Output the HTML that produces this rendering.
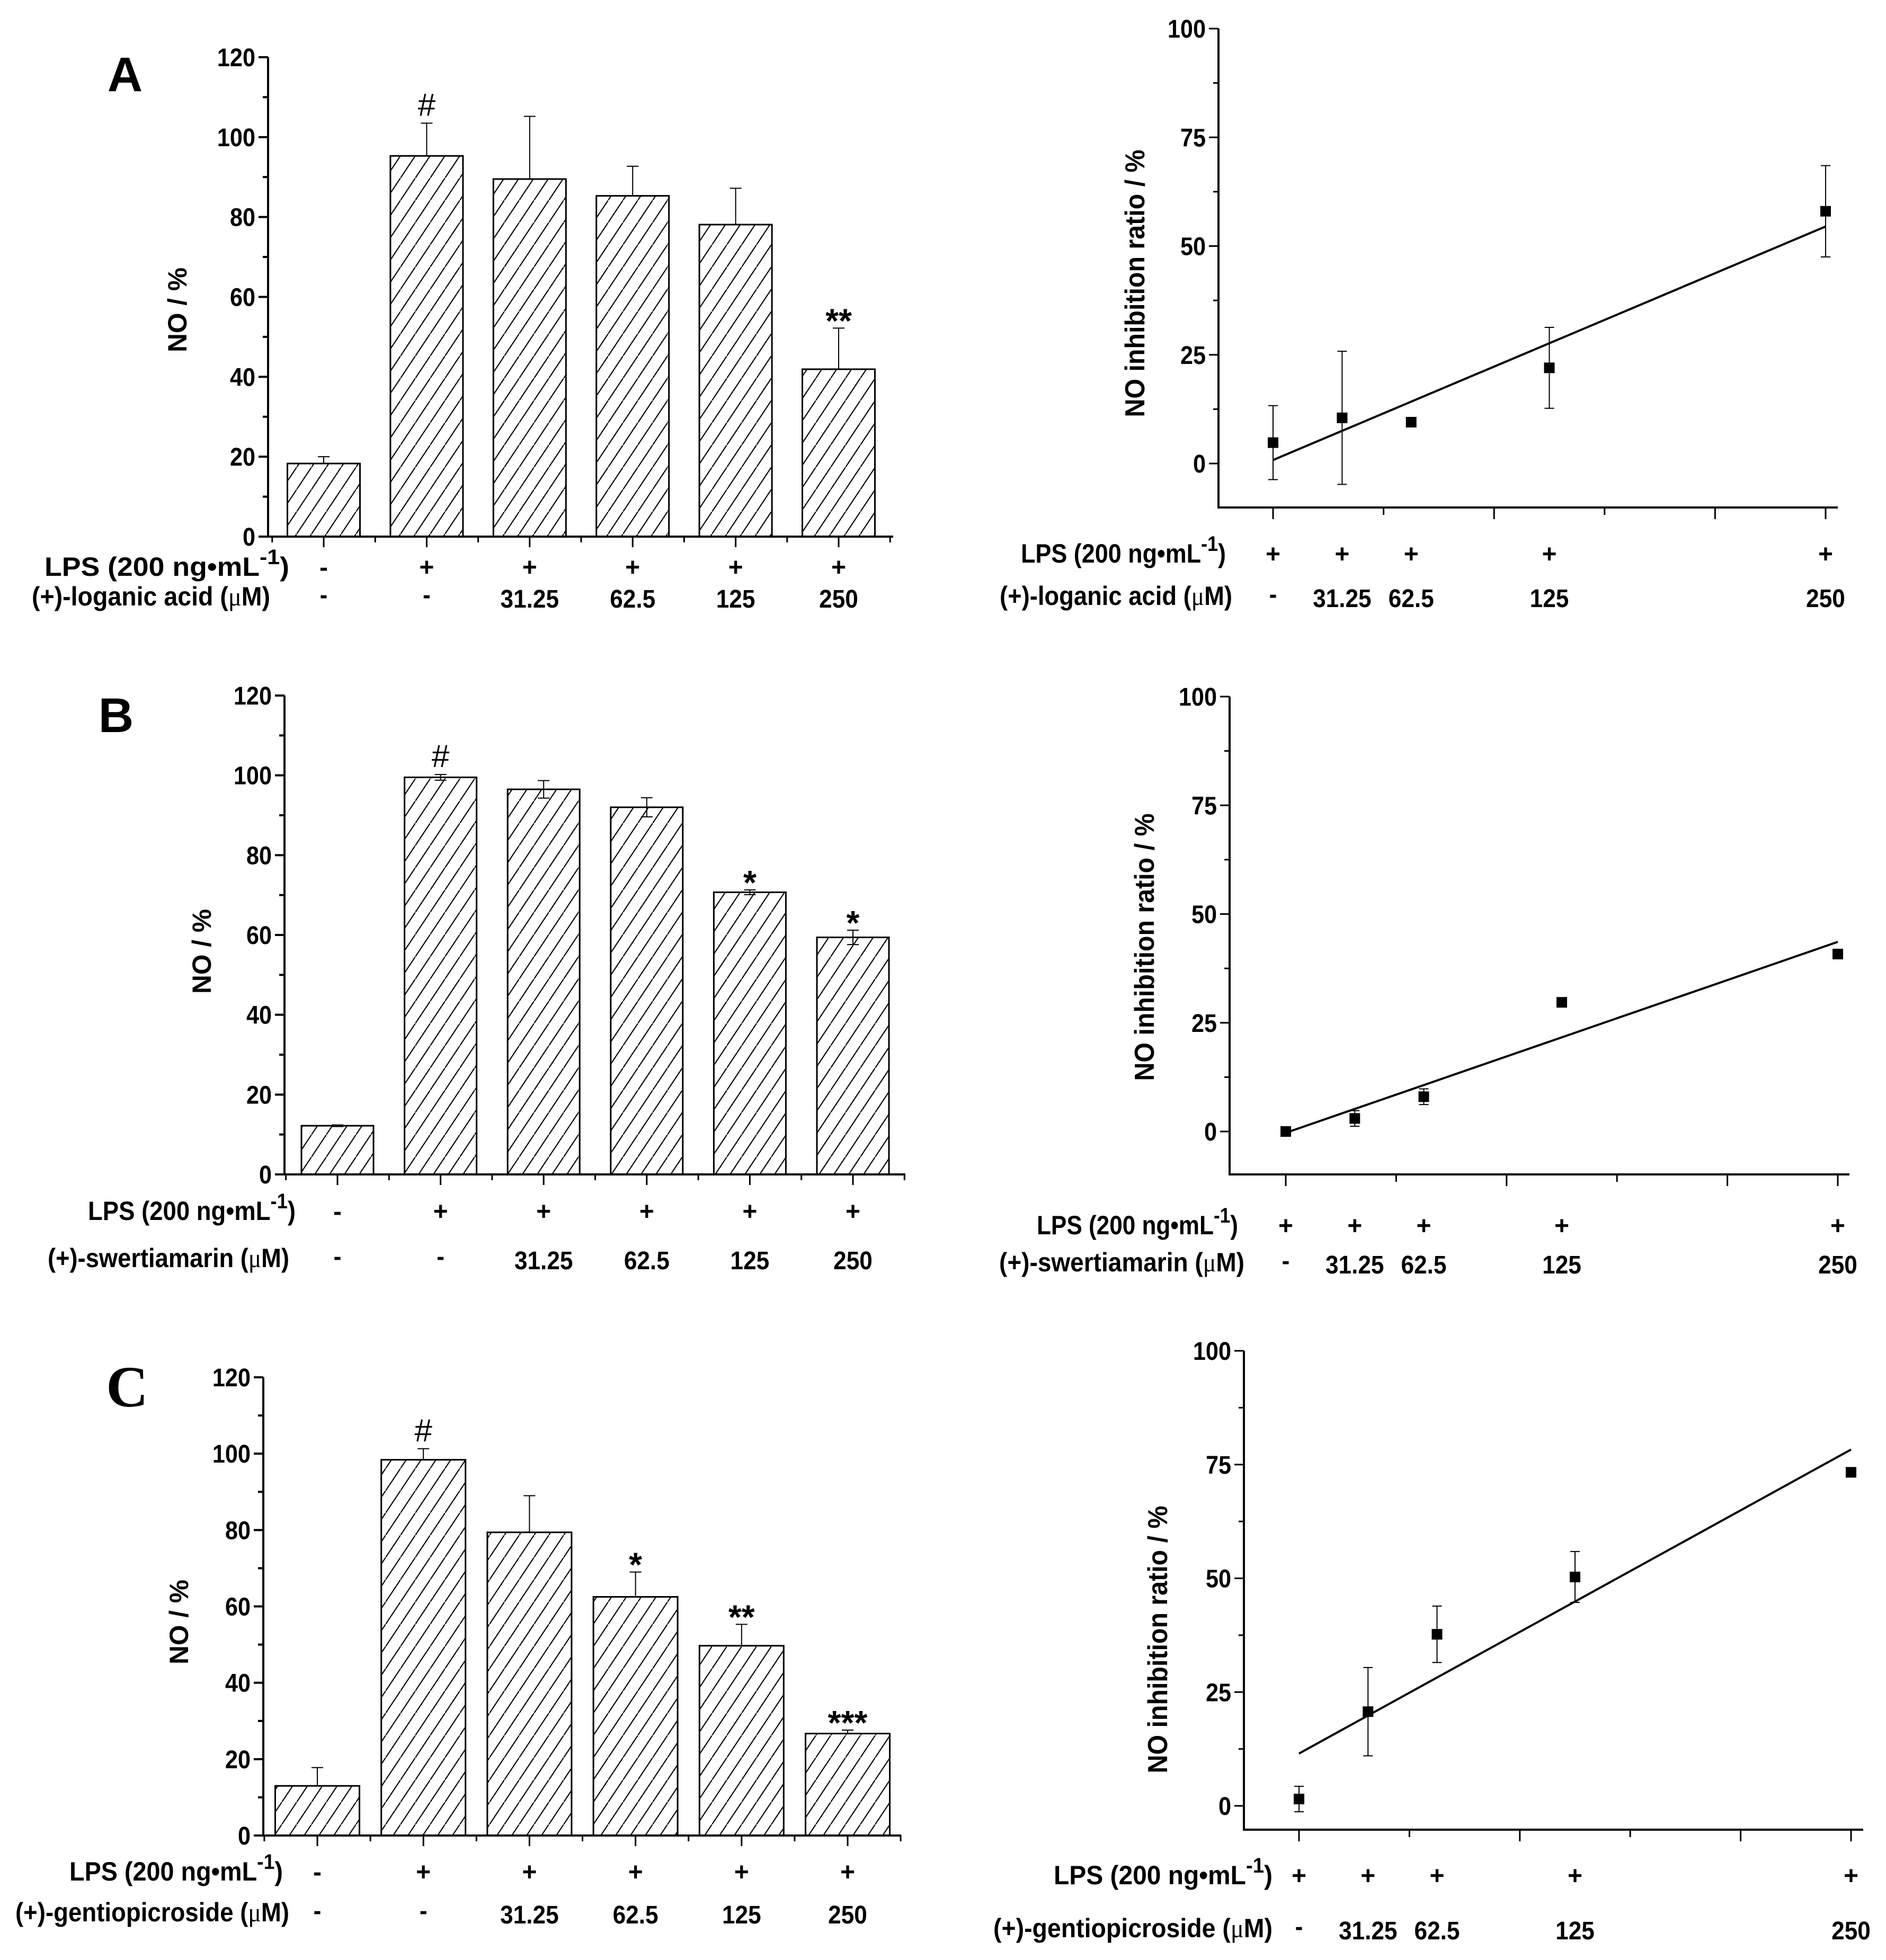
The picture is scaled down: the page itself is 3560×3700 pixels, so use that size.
<!DOCTYPE html>
<html><head><meta charset="utf-8"><style>
html,body{margin:0;padding:0;background:#fff}
svg{display:block}
text{font-family:"Liberation Sans",Arial,sans-serif;font-weight:bold;fill:#000}
</style></head><body>
<svg id="fig" xmlns="http://www.w3.org/2000/svg" width="3560" height="3700" viewBox="0 0 3560 3700">
<defs>
<pattern id="hatch" patternUnits="userSpaceOnUse" width="28" height="42">
<line x1="-28" y1="84" x2="56" y2="-42" stroke="#000" stroke-width="2"/>
<line x1="0" y1="42" x2="28" y2="0" stroke="#000" stroke-width="2"/>
</pattern>
</defs>
<rect width="3560" height="3700" fill="#fff"/>
</svg>
<script>
// ---- Data ----
const barLps = ['-','+','+','+','+','+'];
const barConc = ['-','-','31.25','62.5','125','250'];
const barA = [18.3, 95.3, 89.5, 85.3, 78.1, 41.9];
const barAErr = [1.7, 8.2, 15.7, 7.4, 9.1, 10.3];
const sigA = ['', '#', '', '', '', '**'];
const barB = [12.2, 99.5, 96.5, 92.0, 70.7, 59.4];
const barBErr = [0.2, 0.7, 2.2, 2.4, 0.6, 1.8];
const sigB = ['', '#', '', '', '*', '*'];
const barC = [13.0, 98.4, 79.4, 62.5, 49.7, 26.7];
const barCErr = [4.8, 2.9, 9.6, 6.5, 5.6, 0.9];
const sigC = ['', '#', '', '*', '**', '***'];
const barTicks = [0, 20, 40, 60, 80, 100, 120];

const concs = [0, 31.25, 62.5, 125, 250];
const concLabels = ['-', '31.25', '62.5', '125', '250'];
const inhA = [4.8, 10.5, 9.5, 22.0, 58.0];
const inhAErr = [8.5, 15.3, 0, 9.3, 10.5];
const fitA = [0.8, 54.5];
const inhB = [0, 3.0, 8.0, 29.7, 40.8];
const inhBErr = [0.3, 1.8, 1.8, 0.5, 1.0];
const fitB = [-0.3, 43.6];
const inhC = [1.5, 20.7, 37.7, 50.3, 73.3];
const inhCErr = [2.8, 9.7, 6.2, 5.6, 0];
const fitC = [11.5, 78.3];
const inhTicks = [0, 25, 50, 75, 100];

const NS = 'http://www.w3.org/2000/svg';
const svg = document.getElementById('fig');
function el(tag, attrs, parent) {
  const e = document.createElementNS(NS, tag);
  for (const k in attrs) e.setAttribute(k, attrs[k]);
  (parent || svg).appendChild(e);
  return e;
}
function txt(x, y, s, size, anchor, parent, cond) {
  const t = el('text', {x: x, y: y, 'font-size': size, 'text-anchor': anchor || 'middle'}, parent);
  t.textContent = s;
  if (cond) { const L = t.getComputedTextLength(); t.setAttribute('textLength', L * cond); t.setAttribute('lengthAdjust', 'spacingAndGlyphs'); }
  return t;
}
function lpsLabel(xr, y, w, parent) {
  const t = el('text', {x: xr, y: y, 'font-size': 50, 'text-anchor': 'end'}, parent);
  
  
  const a = el('tspan', {}, t); a.textContent = 'LPS (200 ng\u2022mL';
  const b = el('tspan', {dy: -22, 'font-size': 40}, t); b.textContent = '-1';
  const c = el('tspan', {dy: 22}, t); c.textContent = ')';
  t.setAttribute('textLength', w); t.setAttribute('lengthAdjust', 'spacingAndGlyphs');
}
function concLabel(xr, y, w, name, parent) {
  const t = el('text', {x: xr, y: y, 'font-size': 50, 'text-anchor': 'end'}, parent);
  
  
  const a = el('tspan', {}, t); a.textContent = name + ' (';
  const b = el('tspan', {style: 'font-family:"Liberation Serif",serif;font-weight:normal'}, t); b.textContent = '\u03bc';
  const c = el('tspan', {}, t); c.textContent = 'M)';
  t.setAttribute('textLength', w); t.setAttribute('lengthAdjust', 'spacingAndGlyphs');
}

function barChart(o) {
  const g = el('g', {});
  
  
  const n = o.vals.length;
  const cx = i => o.c0 + i * o.step;
  const ys = v => o.y0 - (v / 120) * (o.y0 - o.y120);
  for (let i = 0; i < n; i++) {
    const r = el('rect', {x: cx(i) - o.bw / 2, y: ys(o.vals[i]), width: o.bw, height: o.y0 - ys(o.vals[i]), fill: 'url(#hatch)', stroke: '#000', 'stroke-width': 3}, g);
    
    
    const top = ys(o.vals[i] + o.err[i]);
    const bot = o.both ? ys(o.vals[i] - o.err[i]) : ys(o.vals[i]);
    const eb = el('path', {d: `M${cx(i)} ${bot}V${top}M${cx(i)-11} ${top}H${cx(i)+11}` + (o.both ? `M${cx(i)-11} ${bot}H${cx(i)+11}` : ''), stroke: '#000', 'stroke-width': 2, fill: 'none'}, g);
    
    
    if (o.sig[i]) {
      const s = txt(cx(i), top - 14 + (o.sig[i] === '#' ? 0 : 22), o.sig[i], o.sig[i] === '#' ? 60 : 64, 'middle', g);
      if (o.sig[i] === '#') s.setAttribute('style', 'font-weight:normal');
      
      
    }
  }
  const ax = el('path', {d: `M${o.ax} ${o.y120}V${o.y0}H${o.xend}`, stroke: '#000', 'stroke-width': 4, fill: 'none'}, g);
  
  
  for (let v = 0; v <= 120; v += 10) {
    const maj = v % 20 === 0;
    el('line', {x1: o.ax - (maj ? 18 : 10), x2: o.ax, y1: ys(v), y2: ys(v), stroke: '#000', 'stroke-width': 4}, g);
  }
  barTicks.forEach(v => {
    const t = txt(o.ax - 24, ys(v) + 17, String(v), 48, 'end', g, 0.9);
    
    
  });
  for (let i = 0; i < n; i++) {
    el('line', {x1: cx(i), x2: cx(i), y1: o.y0, y2: o.y0 + 20, stroke: '#000', 'stroke-width': 3}, g);
    el('line', {x1: cx(i) - o.step / 2, x2: cx(i) - o.step / 2, y1: o.y0, y2: o.y0 + 11, stroke: '#000', 'stroke-width': 3}, g);
  }
  el('line', {x1: cx(n - 1) + o.step / 2, x2: cx(n - 1) + o.step / 2, y1: o.y0, y2: o.y0 + 11, stroke: '#000', 'stroke-width': 3}, g);
  const yt = el('text', {x: 0, y: 0, 'font-size': 50, 'text-anchor': 'middle', transform: `translate(${o.ylx},${o.yly}) rotate(-90)`, textLength: 160, lengthAdjust: 'spacingAndGlyphs'}, g);
  yt.textContent = 'NO / %';
  
  
  lpsLabel(o.lpsR, o.row1, o.lpsW, g);
  concLabel(o.concR, o.row2, o.concW, o.compound, g);
  for (let i = 0; i < n; i++) {
    const a = txt(cx(i), o.row1, barLps[i], 48, 'middle', g);
    
    
    const b = txt(cx(i), o.row2 + (barConc[i] === '-' ? -4 : 4), barConc[i], 48, 'middle', g, 0.92);
    
    
  }
  const p = txt(o.px, o.py, o.letter, o.serif ? 110 : 92, 'middle', g);
  if (o.serif) { p.setAttribute('style', 'font-family:"Liberation Serif",serif'); }
  
  
}

function scatterChart(o) {
  const g = el('g', {});
  
  
  const xs = c => o.x0 + (c / 250) * (o.x250 - o.x0);
  const ys = v => o.yz - (v / 100) * (o.yz - o.y100);
  const ax = el('path', {d: `M${o.ax} ${o.y100}V${o.ybot}H${o.xend}`, stroke: '#000', 'stroke-width': 4, fill: 'none'}, g);
  
  
  for (let v = 0; v <= 100; v += 12.5) {
    const maj = v % 25 === 0;
    el('line', {x1: o.ax - (maj ? 18 : 10), x2: o.ax, y1: ys(v), y2: ys(v), stroke: '#000', 'stroke-width': 3}, g);
  }
  inhTicks.forEach(v => {
    const t = txt(o.ax - 24, ys(v) + 17, String(v), 48, 'end', g, 0.9);
    
    
  });
  for (let c = 0; c <= 250; c += 50) {
    el('line', {x1: xs(c), x2: xs(c), y1: o.ybot, y2: o.ybot + (c % 100 === 0 || c === 250 ? 22 : 14), stroke: '#000', 'stroke-width': 3}, g);
  }
  const fl = el('line', {x1: xs(0), y1: ys(o.fit[0]), x2: xs(250), y2: ys(o.fit[1]), stroke: '#000', 'stroke-width': 4}, g);
  
  
  for (let i = 0; i < concs.length; i++) {
    const x = xs(concs[i]), y = ys(o.vals[i]);
    if (o.err[i] > 0) {
      const t = ys(o.vals[i] + o.err[i]), b = ys(o.vals[i] - o.err[i]);
      const eb = el('path', {d: `M${x} ${t}V${b}M${x-9} ${t}H${x+9}M${x-9} ${b}H${x+9}`, stroke: '#000', 'stroke-width': 2, fill: 'none'}, g);
      
      
    }
    const m = el('rect', {x: x - 10, y: y - 10, width: 20, height: 20, fill: '#000'}, g);
    
    
  }
  const yt = el('text', {x: 0, y: 0, 'font-size': 52, 'text-anchor': 'middle', transform: `translate(${o.ylx},${o.yly}) rotate(-90)`, textLength: 505, lengthAdjust: 'spacingAndGlyphs'}, g);
  yt.textContent = 'NO inhibition ratio / %';
  
  
  lpsLabel(o.lpsR, o.row1, o.lpsW, g);
  concLabel(o.concR, o.row2, o.concW, o.compound, g);
  for (let i = 0; i < concs.length; i++) {
    const a = txt(xs(concs[i]), o.row1, '+', 48, 'middle', g);
    
    
    const b = txt(xs(concs[i]), o.row2 + (i === 0 ? -4 : 4), concLabels[i], 48, 'middle', g, 0.92);
    
    
  }
}

barChart({name:'bar-chart-a', vals:barA, err:barAErr, sig:sigA, both:false, c0:611, step:194.4, bw:137, ax:506, xend:1686, y0:1013, y120:108,
  ylx:352, yly:585, lpsR:546, lpsW:462, concR:510, concW:450, row1:1087, row2:1143, compound:'(+)-loganic acid', px:236, py:172, letter:'A'});
barChart({name:'bar-chart-b', vals:barB, err:barBErr, sig:sigB, both:true, c0:637, step:194.6, bw:136, ax:537, xend:1709, y0:2217, y120:1313,
  ylx:398, yly:1796, lpsR:558, lpsW:392, concR:546, concW:456, row1:2303, row2:2392, compound:'(+)-swertiamarin', px:219, py:1382, letter:'B'});
barChart({name:'bar-chart-c', vals:barC, err:barCErr, sig:sigC, both:false, c0:599, step:200.2, bw:159, ax:497, xend:1701, y0:3465, y120:2600,
  ylx:355, yly:3062, lpsR:534, lpsW:403, concR:546, concW:517, row1:3550, row2:3627, compound:'(+)-gentiopicroside', px:240, py:2655, letter:'C', serif:true});

scatterChart({name:'inhibition-chart-a', vals:inhA, err:inhAErr, fit:fitA, ax:2300, xend:3469, x0:2403, x250:3446, yz:875, y100:54, ybot:958,
  ylx:2160, yly:535, lpsR:2314, lpsW:387, concR:2326, concW:439, row1:1062, row2:1142, compound:'(+)-loganic acid'});
scatterChart({name:'inhibition-chart-b', vals:inhB, err:inhBErr, fit:fitB, ax:2321, xend:3491, x0:2427, x250:3469, yz:2136, y100:1315, ybot:2217,
  ylx:2178, yly:1788, lpsR:2337, lpsW:380, concR:2349, concW:463, row1:2330, row2:2400, compound:'(+)-swertiamarin'});
scatterChart({name:'inhibition-chart-c', vals:inhC, err:inhCErr, fit:fitC, ax:2348, xend:3517, x0:2452, x250:3494, yz:3409, y100:2550, ybot:3454,
  ylx:2203, yly:3095, lpsR:2402, lpsW:413, concR:2402, concW:527, row1:3557, row2:3657, compound:'(+)-gentiopicroside'});
</script>
</body></html>
